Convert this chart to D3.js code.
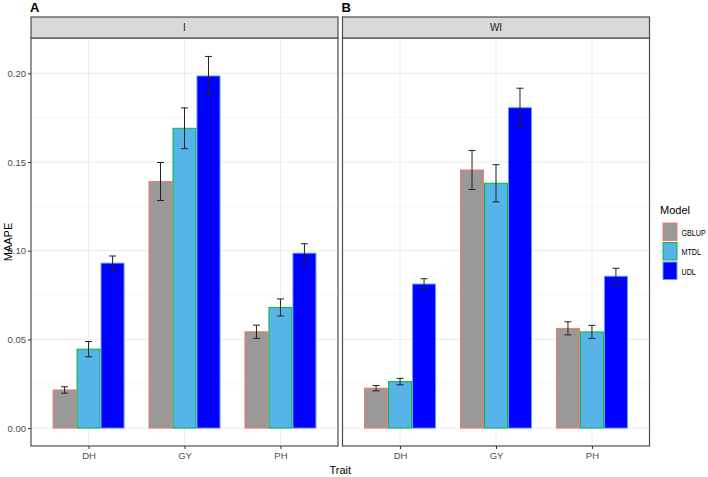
<!DOCTYPE html>
<html><head><meta charset="utf-8">
<script src="https://cdn.jsdelivr.net/npm/d3@7"></script>
<style>body{margin:0;background:#fff}svg{display:block}text{font-family:"Liberation Sans",Arial,sans-serif}</style>
</head><body><svg id="c" width="708" height="477"></svg>
<script>
const traits = ["DH","GY","PH"];
const models = ["GBLUP","MTDL","UDL"];
const panels = ["I","WI"];
const panelLetters = ["A","B"];
// values per panel: [trait][model]
const meanI  = [[0.0215,0.0445,0.093],[0.139,0.169,0.1985],[0.0543,0.068,0.0986]];
const errI   = [[0.0018,0.0043,0.004],[0.0107,0.0115,0.011],[0.0037,0.0048,0.0053]];
const meanWI = [[0.0225,0.0262,0.0812],[0.1455,0.138,0.1806],[0.0562,0.0542,0.0856]];
const errWI  = [[0.0015,0.0018,0.003],[0.011,0.0105,0.011],[0.0037,0.0037,0.0045]];
const yTicks = [0,0.05,0.10,0.15,0.20];
const yMinor = [0.025,0.075,0.125,0.175];
const fills = ["#999999","#56B4E9","#0000FF"];
const strokes = ["#F8766D","#00BA38","#619CFF"];

(function(){
const svg = d3.select("#c");
const pTop = 38, pBottom = 446, stripTop = 17;
const panelX = [[31,338],[342.5,649.5]];
const y = d3.scaleLinear().domain([-0.0101,0.2199]).range([pBottom, pTop]);
const means = [meanI, meanWI], errs = [errI, errWI];

panels.forEach((p, pi) => {
  const [x0, x1] = panelX[pi];
  const xc = d3.scalePoint().domain(traits).range([x0, x1]).padding(0.6);
  const unit = xc.step();
  const groupW = 0.74 * unit;
  const xm = d3.scaleBand().domain(models).range([-groupW/2, groupW/2]).paddingInner(0.04);
  const g = svg.append("g");
  g.append("rect").attr("x", x0).attr("y", pTop).attr("width", x1-x0).attr("height", pBottom-pTop).attr("fill", "#fff");
  yMinor.forEach(v => g.append("line").attr("x1", x0).attr("x2", x1).attr("y1", y(v)).attr("y2", y(v)).attr("stroke", "#F2F2F2").attr("stroke-width", 0.6));
  yTicks.forEach(v => g.append("line").attr("x1", x0).attr("x2", x1).attr("y1", y(v)).attr("y2", y(v)).attr("stroke", "#EBEBEB").attr("stroke-width", 1));
  traits.forEach(t => g.append("line").attr("x1", xc(t)).attr("x2", xc(t)).attr("y1", pTop).attr("y2", pBottom).attr("stroke", "#EBEBEB").attr("stroke-width", 1));
  traits.forEach((t, ti) => {
    models.forEach((m, mi) => {
      const v = means[pi][ti][mi];
      const bx = xc(t) + xm(m);
      g.append("rect").attr("x", bx).attr("y", y(v)).attr("width", xm.bandwidth()).attr("height", y(0)-y(v))
        .attr("fill", fills[mi]).attr("stroke", strokes[mi]).attr("stroke-width", 1);
    });
  });
  traits.forEach((t, ti) => {
    models.forEach((m, mi) => {
      const v = means[pi][ti][mi], e = errs[pi][ti][mi];
      const cx = xc(t) + xm(m) + xm.bandwidth()/2;
      const cw = 3.5;
      g.append("line").attr("x1", cx).attr("x2", cx).attr("y1", y(v+e)).attr("y2", y(v-e)).attr("stroke", "#222").attr("stroke-width", 1);
      g.append("line").attr("x1", cx-cw).attr("x2", cx+cw).attr("y1", y(v+e)).attr("y2", y(v+e)).attr("stroke", "#222").attr("stroke-width", 1);
      g.append("line").attr("x1", cx-cw).attr("x2", cx+cw).attr("y1", y(v-e)).attr("y2", y(v-e)).attr("stroke", "#222").attr("stroke-width", 1);
    });
  });
  g.append("rect").attr("x", x0).attr("y", pTop).attr("width", x1-x0).attr("height", pBottom-pTop).attr("fill", "none").attr("stroke", "#4D4D4D").attr("stroke-width", 1.2);
  g.append("rect").attr("x", x0).attr("y", stripTop).attr("width", x1-x0).attr("height", pTop-stripTop).attr("fill", "#D9D9D9").attr("stroke", "#4D4D4D").attr("stroke-width", 1.2);
  g.append("text").attr("x", (x0+x1)/2).attr("y", (stripTop+pTop)/2 + 3.5).attr("text-anchor", "middle").attr("font-size", 10).attr("fill", "#1A1A1A").text(p);
  const xa = svg.append("g").attr("transform", `translate(0,${pBottom})`).call(d3.axisBottom(xc).tickSize(3).tickPadding(3));
  xa.select(".domain").remove();
  xa.selectAll("line").attr("stroke", "#333");
  xa.selectAll("text").attr("font-size", 9.5).attr("fill", "#4D4D4D").attr("font-family", "Liberation Sans, Arial, sans-serif");
  svg.append("text").attr("x", x0 - 1).attr("y", 12).attr("font-size", 13).attr("font-weight", "bold").attr("fill", "#000").text(panelLetters[pi]);
});
const ya = svg.append("g").attr("transform", `translate(${panelX[0][0]},0)`).call(d3.axisLeft(y).tickValues(yTicks).tickFormat(d3.format(".2f")).tickSize(3).tickPadding(2));
ya.select(".domain").remove();
ya.selectAll("line").attr("stroke", "#333");
ya.selectAll("text").attr("font-size", 9.5).attr("fill", "#4D4D4D").attr("font-family", "Liberation Sans, Arial, sans-serif");
svg.append("text").attr("transform", `translate(12,${(pTop+pBottom)/2}) rotate(-90)`).attr("text-anchor", "middle").attr("font-size", 11).attr("fill", "#000").text("MAAPE");
svg.append("text").attr("x", (panelX[0][0]+panelX[1][1])/2).attr("y", 474).attr("text-anchor", "middle").attr("font-size", 11).attr("fill", "#000").text("Trait");
const lg = svg.append("g");
lg.append("text").attr("x", 660).attr("y", 214).attr("font-size", 11).attr("fill", "#000").text("Model");
models.forEach((m, i) => {
  const ky = 223 + i*19.5;
  lg.append("rect").attr("x", 663).attr("y", ky).attr("width", 14).attr("height", 17.5).attr("fill", fills[i]).attr("stroke", strokes[i]).attr("stroke-width", 1);
  lg.append("text").attr("transform", `translate(681.5,${ky + 12.5}) scale(0.8,1)`).attr("font-size", 9).attr("fill", "#000").text(m);
});
})();
</script></body></html>
